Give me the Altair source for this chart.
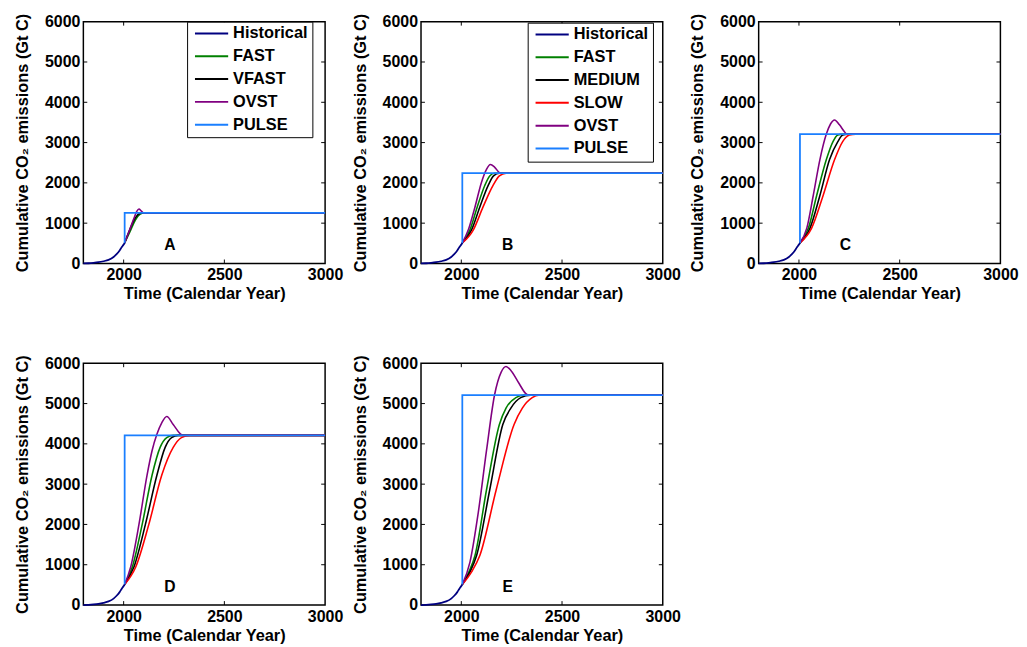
import altair as alt
import pandas as pd

FONT = "Liberation Sans"

PANEL_LABELS = ["A", "B", "C", "D", "E"]
PULSE_LEVELS = [1255, 2240, 3210, 4210, 5210]
PULSE_YEAR = 2005
END_YEAR = 3000

X_TICK_LABELS = [2000, 2500, 3000]
Y_TICK_LABELS = [0, 1000, 2000, 3000, 4000, 5000, 6000]
X_INNER_TICKS = [2000, 2500]
Y_INNER_TICKS = [1000, 2000, 3000, 4000, 5000]

HIST_YEARS = [1800, 1825, 1850, 1875, 1900, 1925, 1950, 1965, 1980, 1990, 2000, 2005]
HIST_VALUES = [0, 5, 15, 30, 55, 90, 160, 230, 320, 400, 470, 510]

A_FAST = [[2005, 510], [2032, 795], [2058, 1079], [2082, 1225], [2102, 1255], [3000, 1255]]
A_VFAST = [[2005, 510], [2027, 795], [2052, 1079], [2074, 1225], [2092, 1255], [3000, 1255]]
A_OVST = [[2005, 510], [2027, 795], [2051, 1119], [2065, 1290], [2076, 1350], [2088, 1300], [2100, 1255], [3000, 1255]]

B_FAST = [[2005, 510], [2043, 835], [2079, 1403], [2116, 1930], [2141, 2173], [2165, 2240], [3000, 2240]]
B_MEDIUM = [[2005, 510], [2051, 835], [2092, 1403], [2133, 1930], [2160, 2173], [2189, 2240], [3000, 2240]]
B_SLOW = [[2005, 510], [2060, 835], [2108, 1403], [2157, 1930], [2189, 2173], [2222, 2240], [3000, 2240]]
B_OVST = [[2005, 510], [2035, 835], [2068, 1403], [2100, 2011], [2125, 2335], [2144, 2457], [2165, 2392], [2189, 2254], [2198, 2240], [3000, 2240]]

C_FAST = [[2005, 510], [2047, 877], [2088, 1687], [2136, 2579], [2169, 3025], [2193, 3187], [2217, 3210], [3000, 3210]]
C_MEDIUM = [[2005, 510], [2055, 877], [2104, 1687], [2152, 2579], [2193, 3025], [2217, 3187], [2242, 3210], [3000, 3210]]
C_SLOW = [[2005, 510], [2063, 877], [2120, 1687], [2177, 2579], [2217, 3025], [2250, 3187], [2282, 3210], [3000, 3210]]
C_OVST = [[2005, 510], [2039, 877], [2071, 1687], [2104, 2579], [2136, 3211], [2156, 3455], [2177, 3560], [2201, 3440], [2226, 3268], [2237, 3210], [3000, 3210]]

D_FAST = [[2005, 510], [2043, 944], [2092, 2001], [2141, 3220], [2181, 3912], [2214, 4155], [2246, 4210], [3000, 4210]]
D_MEDIUM = [[2005, 510], [2051, 944], [2108, 2001], [2165, 3220], [2206, 3912], [2238, 4155], [2271, 4210], [3000, 4210]]
D_SLOW = [[2005, 510], [2060, 944], [2125, 2001], [2189, 3220], [2246, 3912], [2287, 4155], [2327, 4210], [3000, 4210]]
D_OVST = [[2005, 510], [2035, 944], [2076, 2001], [2116, 3220], [2141, 3830], [2165, 4237], [2189, 4521], [2214, 4680], [2246, 4481], [2279, 4261], [2295, 4210], [3000, 4210]]

E_FAST = [[2005, 510], [2038, 822], [2068, 1229], [2125, 2855], [2189, 4481], [2222, 4888], [2271, 5148], [2311, 5210], [3000, 5210]]
E_MEDIUM = [[2005, 510], [2043, 822], [2076, 1229], [2141, 2855], [2206, 4481], [2246, 4888], [2295, 5148], [2344, 5210], [3000, 5210]]
E_SLOW = [[2005, 510], [2051, 822], [2092, 1229], [2173, 2855], [2262, 4481], [2303, 4888], [2352, 5148], [2384, 5210], [3000, 5210]]
E_OVST = [[2005, 510], [2043, 1066], [2084, 2286], [2125, 3830], [2165, 5213], [2198, 5782], [2222, 5920], [2246, 5822], [2287, 5497], [2319, 5253], [2336, 5210], [3000, 5210]]

LEGEND_A = ["Historical", "FAST", "VFAST", "OVST", "PULSE"]
COLORS_A = ["#000080", "#008000", "#000000", "#800080", "#1a7fff"]
LEGEND_B = ["Historical", "FAST", "MEDIUM", "SLOW", "OVST", "PULSE"]
COLORS_B = ["#000080", "#008000", "#000000", "#ff0000", "#800080", "#1a7fff"]

PANEL_SERIES = {
    "A": [("FAST", A_FAST), ("VFAST", A_VFAST), ("OVST", A_OVST)],
    "B": [("FAST", B_FAST), ("MEDIUM", B_MEDIUM), ("SLOW", B_SLOW), ("OVST", B_OVST)],
    "C": [("FAST", C_FAST), ("MEDIUM", C_MEDIUM), ("SLOW", C_SLOW), ("OVST", C_OVST)],
    "D": [("FAST", D_FAST), ("MEDIUM", D_MEDIUM), ("SLOW", D_SLOW), ("OVST", D_OVST)],
    "E": [("FAST", E_FAST), ("MEDIUM", E_MEDIUM), ("SLOW", E_SLOW), ("OVST", E_OVST)],
}

W = 247
H = 247
TICK_LEN = 4
TXT = 16.7
LBL = 16.3

xscale = alt.Scale(domain=[1800, 3000], nice=False, zero=False)
yscale = alt.Scale(domain=[0, 6000], nice=False)
xaxis = alt.Axis(values=X_TICK_LABELS, title="Time (Calendar Year)", format="d",
                 labelPadding=3.5, titlePadding=3, labelFlush=False)
yaxis = alt.Axis(values=Y_TICK_LABELS, title="Cumulative CO\u2082 emissions (Gt C)", format="d",
                 labelPadding=3.5, titlePadding=13, minExtent=40, maxExtent=40, labelFlush=False)


def panel(i, legend_pos):
    label = PANEL_LABELS[i]
    level = PULSE_LEVELS[i]
    domain = LEGEND_A if label == "A" else LEGEND_B
    rng = COLORS_A if label == "A" else COLORS_B

    rows = []
    for name, pts in PANEL_SERIES[label]:
        for k, (yr, v) in enumerate(pts):
            rows.append(dict(series=name, year=yr, value=v, order=k))
    scen = pd.DataFrame(rows)
    hist = pd.DataFrame(dict(series="Historical", year=HIST_YEARS, value=HIST_VALUES,
                             order=list(range(len(HIST_YEARS)))))
    pulse = pd.DataFrame(dict(series="PULSE", year=[PULSE_YEAR, PULSE_YEAR, END_YEAR],
                              value=[HIST_VALUES[-1], level, level], order=[0, 1, 2]))

    if legend_pos is not None:
        legend = alt.Legend(orient="none", legendX=legend_pos[0], legendY=legend_pos[1], title=None)
    else:
        legend = None
    color = alt.Color("series:N", scale=alt.Scale(domain=domain, range=rng), legend=legend)
    x = alt.X("year:Q", scale=xscale, axis=xaxis)
    y = alt.Y("value:Q", scale=yscale, axis=yaxis)

    scen_layer = alt.Chart(scen).mark_line(interpolate="monotone", strokeWidth=1.6).encode(
        x=x, y=y, color=color, order="order:Q")
    pulse_layer = alt.Chart(pulse).mark_line(strokeWidth=1.8).encode(
        x=x, y=y, color=color, order="order:Q")
    hist_layer = alt.Chart(hist).mark_line(interpolate="monotone", strokeWidth=1.8).encode(
        x=x, y=y, color=color, order="order:Q")

    xt = pd.DataFrame({"year": X_INNER_TICKS})
    yt = pd.DataFrame({"value": Y_INNER_TICKS})
    tick_style = dict(color="black", strokeWidth=1)
    t_bottom = alt.Chart(xt).mark_rule(**tick_style).encode(x=x, y=alt.value(H), y2=alt.value(H - TICK_LEN))
    t_top = alt.Chart(xt).mark_rule(**tick_style).encode(x=x, y=alt.value(0), y2=alt.value(TICK_LEN))
    t_left = alt.Chart(yt).mark_rule(**tick_style).encode(y=y, x=alt.value(0), x2=alt.value(TICK_LEN))
    t_right = alt.Chart(yt).mark_rule(**tick_style).encode(y=y, x=alt.value(W), x2=alt.value(W - TICK_LEN))

    lab = pd.DataFrame({"year": [2230], "value": [450], "text": [label]})
    text = alt.Chart(lab).mark_text(font=FONT, fontSize=16, fontWeight="bold", color="black",
                                    align="center", baseline="middle").encode(x=x, y=y, text="text:N")

    return alt.layer(scen_layer, pulse_layer, hist_layer, t_bottom, t_top, t_left, t_right, text).properties(
        width=W, height=H)


pA = panel(0, (106, 0))
pB = panel(1, (109, 1))
pC = panel(2, None)
pD = panel(3, None)
pE = panel(4, None)

row1 = alt.hconcat(pA, pB, pC, spacing=8).resolve_scale(color="independent").resolve_legend(color="independent")
row2 = alt.hconcat(pD, pE, spacing=8).resolve_scale(color="independent").resolve_legend(color="independent")

chart = alt.vconcat(row1, row2, spacing=51).resolve_scale(color="independent").resolve_legend(
    color="independent").properties(
    padding={"left": 6, "top": -3, "right": 0, "bottom": 0}
).configure_view(
    stroke="black", strokeWidth=1.5
).configure_axis(
    labelFont=FONT, labelFontSize=LBL, labelFontWeight="bold", labelColor="black",
    titleFont=FONT, titleFontSize=TXT, titleFontWeight="bold", titleColor="black",
    grid=False, ticks=False, domain=False
).configure_legend(
    symbolType="stroke", symbolStrokeWidth=2, symbolSize=1150, clipHeight=16,
    labelFont=FONT, labelFontSize=TXT, labelFontWeight="bold", labelColor="black",
    padding=4, rowPadding=6.3, symbolOffset=3, labelOffset=4, labelLimit=300,
    strokeColor="black", fillColor="white", cornerRadius=0
)

chart.save("out.html", embed_options={"renderer": "svg", "actions": False})
